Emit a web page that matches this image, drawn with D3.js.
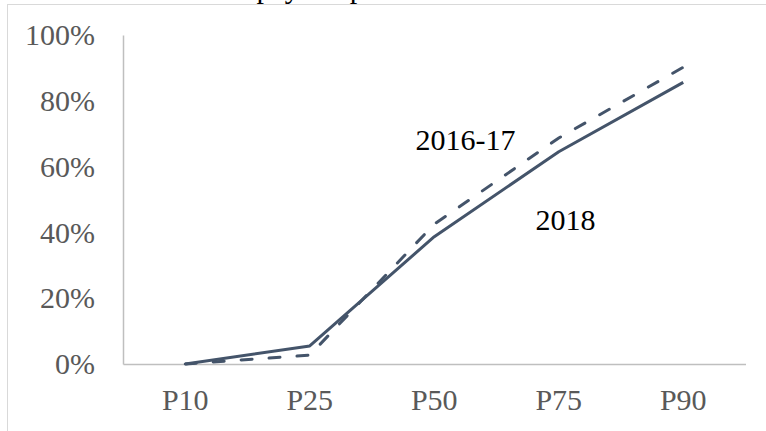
<!DOCTYPE html>
<html>
<head>
<meta charset="utf-8">
<script src="https://cdn.jsdelivr.net/npm/d3@7"></script>
<style>
  html, body { margin: 0; padding: 0; background: #fff; overflow: hidden; }
  svg { display: block; }
</style>
</head>
<body>
<svg id="chart" width="766" height="431"></svg>
<script>
// Percentile categories on the horizontal axis
const categories = ["P10", "P25", "P50", "P75", "P90"];
// Share at each percentile, by period
const values2018 = [0.000, 0.055, 0.387, 0.645, 0.856];
const values2016 = [0.000, 0.027, 0.425, 0.687, 0.902];
// Vertical axis ticks
const yTicks = [0, 0.2, 0.4, 0.6, 0.8, 1.0];
const seriesNames = ["2018", "2016-17"];
const titleText = "Share of firms with pay for performance";

const W = 766, H = 431;
const svg = d3.select("#chart");
const font = "'Liberation Serif', 'Times New Roman', serif";
const lineColor = "#44546A";

// chart-area frame
svg.append("rect")
  .attr("x", 7.5).attr("y", 4.5)
  .attr("width", W + 20).attr("height", H + 20)
  .attr("fill", "none").attr("stroke", "#d9d9d9").attr("stroke-width", 1);

// title (sits mostly above the visible frame)
const title = svg.append("text")
  .attr("y", -2)
  .attr("font-family", font).attr("font-size", 30)
  .attr("fill", "#000")
  .text(titleText);
const lead = svg.append("text").attr("font-family", font).attr("font-size", 30)
  .text("Share of firms with ");
const leadLen = lead.node().getComputedTextLength();
lead.remove();
title.attr("x", 249 - leadLen);

const plot = { left: 123, right: 745.5, top: 35, bottom: 364 };

const x = d3.scaleBand().domain(categories).range([plot.left, plot.right]).padding(0);
const y = d3.scaleLinear().domain([0, 1]).range([plot.bottom, plot.top]);

// y axis
const yAxis = svg.append("g")
  .attr("transform", `translate(${plot.left},0)`)
  .call(d3.axisLeft(y).tickValues(yTicks).tickFormat(d3.format(".0%")).tickSize(0).tickSizeOuter(0).tickPadding(28));
yAxis.select(".domain").attr("stroke", "#bfbfbf").attr("stroke-width", 1.5);
yAxis.selectAll("text").attr("font-family", font).attr("font-size", 30).attr("fill", "#595959");

// x axis
const xAxis = svg.append("g")
  .attr("transform", `translate(0,${plot.bottom})`)
  .call(d3.axisBottom(x).tickSize(0).tickSizeOuter(0).tickPadding(25));
xAxis.select(".domain").attr("stroke", "#bfbfbf").attr("stroke-width", 1.5);
xAxis.selectAll("text").attr("font-family", font).attr("font-size", 30).attr("fill", "#595959");

const line = d3.line()
  .x((d, i) => x(categories[i]) + x.bandwidth() / 2)
  .y(d => y(d));

// 2016-17 (dashed)
svg.append("path")
  .datum(values2016)
  .attr("d", line)
  .attr("fill", "none")
  .attr("stroke", lineColor)
  .attr("stroke-width", 3)
  .attr("stroke-linecap", "round")
  .attr("stroke-dasharray", "11,17");

// 2018 (solid)
svg.append("path")
  .datum(values2018)
  .attr("d", line)
  .attr("fill", "none")
  .attr("stroke", lineColor)
  .attr("stroke-width", 3)
  .attr("stroke-linejoin", "round");

// series labels
svg.append("text")
  .attr("x", 465.5).attr("y", 150)
  .attr("text-anchor", "middle")
  .attr("font-family", font).attr("font-size", 30).attr("fill", "#000")
  .text(seriesNames[1]);
svg.append("text")
  .attr("x", 565.5).attr("y", 230)
  .attr("text-anchor", "middle")
  .attr("font-family", font).attr("font-size", 30).attr("fill", "#000")
  .text(seriesNames[0]);
</script>
</body>
</html>
